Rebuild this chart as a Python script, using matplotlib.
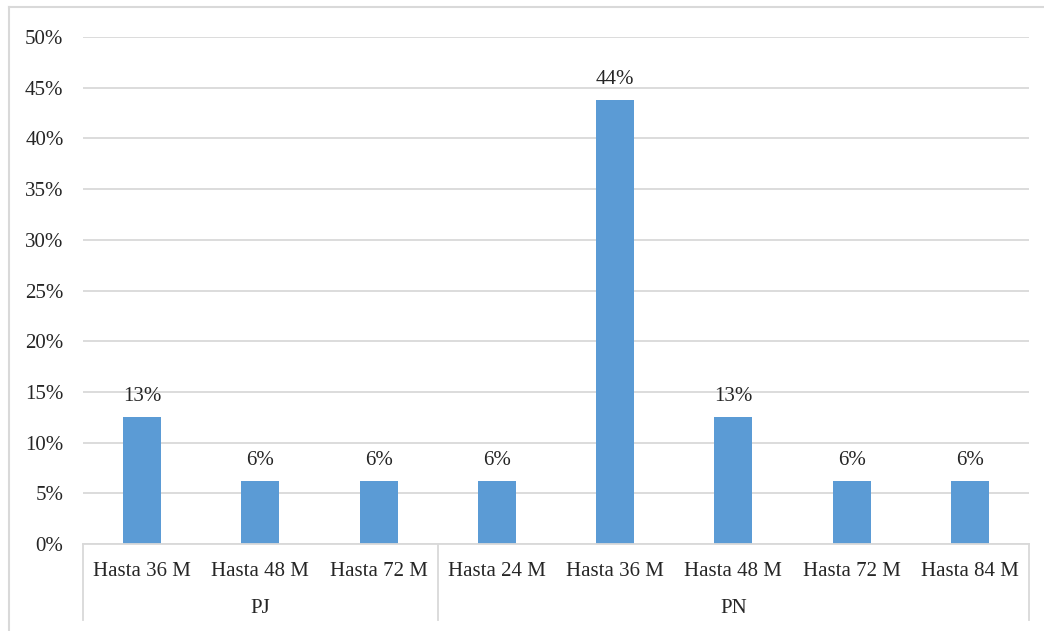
import matplotlib.pyplot as plt
from matplotlib.lines import Line2D
from matplotlib.ticker import PercentFormatter

plazos = ["Hasta 36 M", "Hasta 48 M", "Hasta 72 M",
          "Hasta 24 M", "Hasta 36 M", "Hasta 48 M", "Hasta 72 M", "Hasta 84 M"]
grupos = ["PJ", "PN"]
tam_grupo = [3, 5]
porcentajes = [0.125, 0.0625, 0.0625, 0.0625, 0.4375, 0.125, 0.0625, 0.0625]

plt.rcParams["font.family"] = ["Liberation Serif", "DejaVu Serif"]
plt.rcParams["font.size"] = 15

azul = "#5B9BD5"
gris = "#D9D9D9"

fig = plt.figure(figsize=(10.44, 6.31), dpi=100)
W, H = 1044, 631
ax = fig.add_axes([83 / W, 1 - 544 / H, (1029 - 83) / W, (544 - 37) / H])

x = list(range(len(porcentajes)))
barras = ax.bar(x, porcentajes, width=0.32, color=azul, zorder=3)

for b, v in zip(barras, porcentajes):
    ax.annotate(f"{int(v * 100 + 0.5)}%", (b.get_x() + b.get_width() / 2, v),
                xytext=(0, 8), textcoords="offset points",
                ha="center", va="bottom", color="#262626")

ax.set_xlim(-0.5, len(porcentajes) - 0.5)
ax.set_ylim(0, 0.5)
ax.set_yticks([i * 0.05 for i in range(11)])
ax.yaxis.set_major_formatter(PercentFormatter(1.0, decimals=0))
ax.grid(axis="y", color=gris, linewidth=1.3, zorder=0)
ax.tick_params(axis="y", length=0, pad=14, colors="#262626")
ax.tick_params(axis="x", length=0, labelbottom=False)
for s in ["top", "right", "left"]:
    ax.spines[s].set_visible(False)
ax.spines["bottom"].set_color(gris)
ax.spines["bottom"].set_linewidth(1.3)
ax.spines["bottom"].set_zorder(4)

# etiquetas de dos niveles en el eje x
trans = ax.get_xaxis_transform()
for i, p in enumerate(plazos):
    ax.text(i, -0.054, p, transform=trans, ha="center", va="center", color="#262626")

inicio = -0.5
for g, n in zip(grupos, tam_grupo):
    ax.text(inicio + n / 2, -0.128, g, transform=trans, ha="center", va="center",
            color="#262626")
    inicio += n
separadores = [-0.5]
for n in tam_grupo:
    separadores.append(separadores[-1] + n)
for s in separadores:
    ax.plot([s, s], [0, -0.15], transform=trans, color=gris, linewidth=1.3,
            clip_on=False)

# marco exterior del grafico
fig.add_artist(Line2D([9 / W, 1], [1 - 7 / H, 1 - 7 / H], color=gris, linewidth=1.5))
fig.add_artist(Line2D([9 / W, 9 / W], [0, 1 - 7 / H], color=gris, linewidth=1.5))

fig.savefig("out.png", dpi=100)
